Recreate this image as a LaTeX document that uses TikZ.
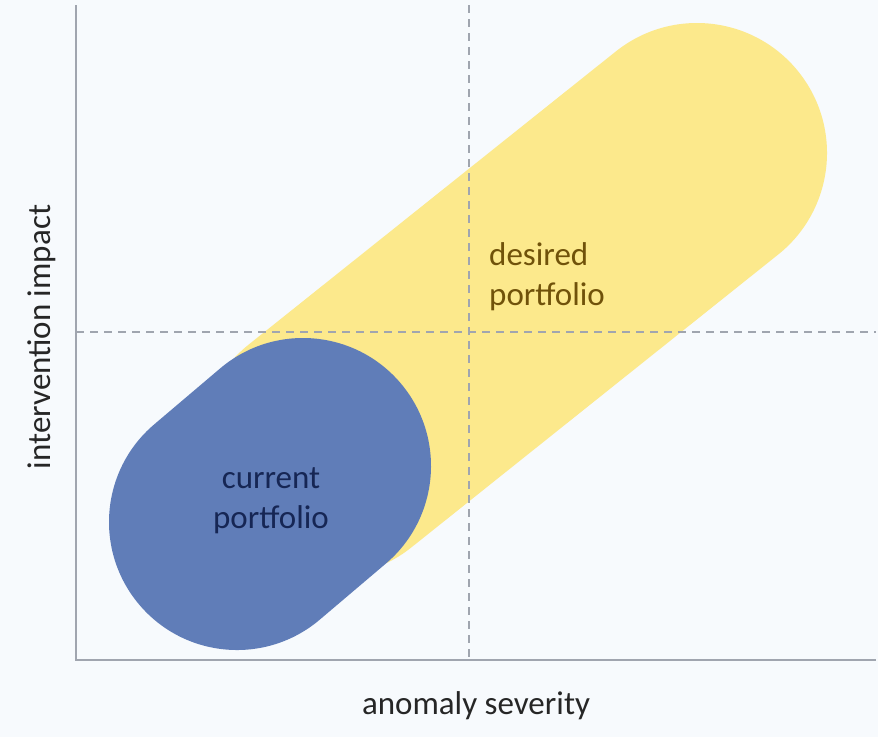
\documentclass[tikz,border=0pt]{standalone}
\usepackage{fontspec}
\setmainfont{Carlito}
\usepackage{tikz}
\definecolor{paper}{RGB}{247,250,253}
\definecolor{desiredfill}{RGB}{252,233,140}
\definecolor{currentfill}{RGB}{96,125,184}
\definecolor{desiredtext}{RGB}{112,82,10}
\definecolor{currenttext}{RGB}{22,38,84}
\definecolor{axisgray}{RGB}{160,165,175}
\tikzset{
  axisline/.style={axisgray, line width=1.3pt},
  quadline/.style={axisgray, line width=1.2pt, dash pattern=on 8pt off 6pt},
  blob/.style={line width=#1, line cap=round},
  labeltext/.style={inner sep=0pt, font=\fontsize{33}{40}\selectfont}
}

\begin{document}
\begin{tikzpicture}[x=1pt, y=-1pt]
  \fill[paper] (0,0) rectangle (878,737);
  \useasboundingbox (0,0) rectangle (878,737);
  \coordinate (origin) at (76,660);
  \coordinate (ytop) at (76,5);
  \coordinate (xend) at (876,660);
  \coordinate (vtop) at (469,5);
  \coordinate (vbot) at (469,660);
  \coordinate (hleft) at (76,332);
  \coordinate (hright) at (876,332);
  \draw[blob=260pt, desiredfill] (330,446) -- (697,153);
  \draw[blob=256pt, currentfill] (237,522) -- (303,466);
  \draw[quadline] (vtop) -- (vbot);
  \draw[quadline] (hleft) -- (hright);
  \draw[axisline] (ytop) -- (origin) -- (xend);
  \node[labeltext, align=left, anchor=west, text=desiredtext] (desired) at (489,277) {desired\\portfolio};
  \node[labeltext, align=center, text=currenttext] (current) at (271,501) {current\\portfolio};
  \node[labeltext, text=black!85] (xlabel) at (476,706) {anomaly severity};
  \node[labeltext, rotate=90, text=black!85] (ylabel) at (42,337) {intervention impact};
\end{tikzpicture}
\end{document}
